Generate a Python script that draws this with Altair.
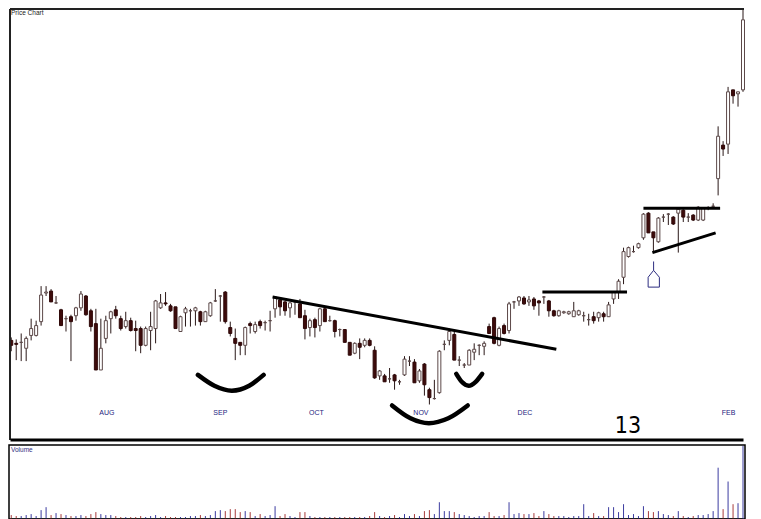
import altair as alt
import pandas as pd
import numpy as np

# ---------------- data ----------------
opens = [1.13, 1.10, 1.11, 1.05, 1.18, 1.18, 1.32, 1.61, 1.63, 1.51,
         1.44, 1.35, 1.37, 1.38, 1.46, 1.58, 1.43, 1.30, 0.83, 1.15,
         1.35, 1.44, 1.35, 1.27, 1.33, 1.25, 1.25, 1.08, 1.23, 1.25,
         1.46, 1.51, 1.48, 1.47, 1.22, 1.41, 1.43, 1.43, 1.42, 1.32,
         1.38, 1.53, 1.58, 1.62, 1.26, 1.15, 1.11, 1.08, 1.30, 1.22,
         1.32, 1.31, 1.33, 1.45, 1.54, 1.52, 1.46, 1.52, 1.50, 1.38,
         1.26, 1.34, 1.28, 1.45, 1.33, 1.33, 1.24, 1.24, 1.11, 1.00,
         1.10, 1.08, 1.13, 1.03, 0.77, 0.77, 0.74, 0.78, 0.71, 0.78,
         0.92, 0.91, 0.72, 0.89, 0.63, 0.54, 0.60, 1.09, 1.13, 1.19,
         0.93, 0.88, 0.88, 1.01, 1.08, 1.07, 1.27, 1.36, 1.08, 1.28,
         1.23, 1.52, 1.53, 1.56, 1.52, 1.55, 1.53, 1.57, 1.53, 1.43,
         1.38, 1.41, 1.40, 1.37, 1.39, 1.38, 1.34, 1.37, 1.36, 1.40,
         1.37, 1.55, 1.62, 1.77, 1.98, 2.03, 2.07, 2.17, 2.42, 2.23,
         2.13, 2.38, 2.41, 2.38, 2.42, 2.45, 2.38, 2.40, 2.35, 2.35,
         2.47, 2.49, 2.77, 3.11, 3.12, 3.67, 3.63, 3.67]
highs = [1.16, 1.14, 1.20, 1.17, 1.35, 1.33, 1.68, 1.68, 1.65, 1.58,
         1.45, 1.38, 1.39, 1.47, 1.63, 1.59, 1.45, 1.45, 1.35, 1.38,
         1.43, 1.48, 1.38, 1.42, 1.36, 1.33, 1.27, 1.27, 1.42, 1.54,
         1.60, 1.62, 1.50, 1.47, 1.38, 1.47, 1.45, 1.47, 1.43, 1.43,
         1.52, 1.65, 1.59, 1.63, 1.32, 1.25, 1.11, 1.27, 1.32, 1.32,
         1.34, 1.33, 1.43, 1.58, 1.56, 1.53, 1.52, 1.53, 1.55, 1.44,
         1.35, 1.36, 1.46, 1.46, 1.38, 1.34, 1.25, 1.24, 1.11, 1.11,
         1.15, 1.15, 1.15, 1.07, 0.83, 0.79, 0.85, 0.79, 0.73, 0.97,
         0.97, 0.94, 0.84, 0.90, 0.65, 0.73, 1.03, 1.13, 1.25, 1.22,
         0.97, 0.90, 1.04, 1.10, 1.09, 1.12, 1.30, 1.37, 1.27, 1.30,
         1.52, 1.53, 1.58, 1.58, 1.58, 1.57, 1.54, 1.58, 1.54, 1.44,
         1.44, 1.43, 1.43, 1.52, 1.44, 1.42, 1.40, 1.42, 1.42, 1.42,
         1.52, 1.63, 1.75, 2.07, 2.08, 2.09, 2.12, 2.42, 2.43, 2.23,
         2.38, 2.41, 2.42, 2.39, 2.47, 2.46, 2.42, 2.41, 2.49, 2.48,
         2.49, 2.52, 3.30, 3.15, 3.70, 3.67, 3.65, 4.49]
lows = [1.02, 0.93, 0.92, 0.92, 1.13, 1.17, 1.28, 1.58, 1.52, 1.50,
        1.28, 1.22, 0.92, 1.33, 1.43, 1.38, 1.22, 0.83, 0.83, 1.10,
        1.20, 1.35, 1.23, 1.25, 1.22, 1.02, 1.00, 1.07, 1.03, 1.10,
        1.45, 1.48, 1.42, 1.25, 1.22, 1.27, 1.27, 1.28, 1.28, 1.32,
        1.37, 1.52, 1.32, 1.30, 1.17, 0.93, 0.98, 0.98, 1.20, 1.20,
        1.25, 1.23, 1.22, 1.36, 1.38, 1.38, 1.36, 1.39, 1.36, 1.14,
        1.17, 1.16, 1.22, 1.32, 1.32, 1.16, 1.17, 1.11, 0.98, 0.99,
        0.94, 1.06, 1.07, 0.74, 0.73, 0.71, 0.70, 0.63, 0.68, 0.77,
        0.87, 0.70, 0.70, 0.57, 0.48, 0.53, 0.59, 1.03, 1.08, 0.93,
        0.87, 0.85, 0.88, 0.93, 0.98, 0.98, 1.20, 1.09, 1.07, 1.19,
        1.20, 1.45, 1.48, 1.49, 1.48, 1.44, 1.38, 1.50, 1.37, 1.37,
        1.37, 1.40, 1.39, 1.37, 1.38, 1.32, 1.28, 1.30, 1.32, 1.32,
        1.37, 1.50, 1.55, 1.70, 1.97, 2.02, 2.06, 2.15, 2.22, 2.02,
        2.12, 2.33, 2.30, 2.30, 2.02, 2.33, 2.33, 2.34, 2.34, 2.34,
        2.45, 2.47, 2.60, 3.00, 3.02, 3.53, 3.50, 3.65]
closes = [1.08, 1.09, 1.11, 1.15, 1.25, 1.28, 1.59, 1.62, 1.52, 1.51,
          1.28, 1.35, 1.32, 1.46, 1.60, 1.39, 1.27, 0.83, 1.05, 1.33,
          1.42, 1.38, 1.25, 1.33, 1.23, 1.23, 1.08, 1.25, 1.27, 1.53,
          1.51, 1.50, 1.43, 1.25, 1.37, 1.45, 1.43, 1.46, 1.32, 1.42,
          1.51, 1.53, 1.58, 1.32, 1.20, 1.10, 1.08, 1.26, 1.28, 1.29,
          1.28, 1.31, 1.33, 1.57, 1.47, 1.43, 1.51, 1.52, 1.36, 1.25,
          1.33, 1.26, 1.45, 1.32, 1.33, 1.22, 1.24, 1.11, 0.98, 1.10,
          1.06, 1.13, 1.08, 0.75, 0.82, 0.71, 0.74, 0.72, 0.71, 0.94,
          0.92, 0.70, 0.82, 0.68, 0.55, 0.54, 1.02, 1.09, 1.22, 0.93,
          0.93, 0.88, 1.03, 1.04, 1.08, 1.10, 1.20, 1.10, 1.25, 1.20,
          1.50, 1.52, 1.57, 1.50, 1.54, 1.48, 1.51, 1.57, 1.43, 1.38,
          1.43, 1.42, 1.42, 1.43, 1.43, 1.38, 1.34, 1.33, 1.41, 1.37,
          1.49, 1.62, 1.73, 2.03, 2.07, 2.03, 2.11, 2.41, 2.22, 2.17,
          2.37, 2.38, 2.41, 2.31, 2.46, 2.38, 2.38, 2.35, 2.48, 2.47,
          2.47, 2.49, 3.20, 3.07, 3.65, 3.61, 3.65, 4.38]
volumes = [400, 300, 300, 400, 500, 300, 900, 1200, 400, 600,
           500, 400, 300, 300, 400, 300, 500, 700, 500, 400,
           400, 300, 200, 200, 200, 200, 300, 200, 300, 400,
           200, 300, 200, 200, 200, 200, 300, 300, 400, 300,
           400, 800, 900, 800, 1000, 1000, 700, 800, 700, 300,
           500, 300, 400, 1300, 300, 500, 300, 200, 700, 700,
           300, 200, 200, 200, 200, 200, 200, 200, 200, 200,
           200, 200, 300, 700, 300, 200, 300, 400, 200, 500,
           300, 500, 300, 800, 900, 500, 1700, 800, 800, 700,
           500, 400, 300, 200, 300, 300, 700, 300, 300, 400,
           1700, 500, 600, 500, 500, 600, 300, 800, 500, 300,
           300, 300, 200, 300, 300, 1500, 300, 600, 300, 300,
           1200, 1200, 700, 1500, 400, 500, 300, 1300, 800, 700,
           800, 500, 400, 300, 800, 300, 200, 300, 400, 400,
           500, 800, 5200, 1000, 3800, 1500, 1600, 7400]

month_labels = ["AUG", "SEP", "OCT", "NOV", "DEC", "FEB"]
month_pos = [19.2, 42.0, 61.3, 82.3, 103.2, 144.1]

# trend lines (bar index, price)
trend_x1 = [52.5, 106.7, 127.0, 128.8]
trend_y1 = [1.57, 1.62, 2.47, 2.02]
trend_x2 = [109.5, 123.7, 142.4, 141.5]
trend_y2 = [1.04, 1.62, 2.47, 2.22]

# hand-drawn smile curves
arc_id = ["a"] * 5 + ["b"] * 5 + ["c"] * 5
arc_x = [37.5, 40.8, 44.3, 47.8, 50.7,
         76.5, 80.2, 83.9, 87.8, 91.7,
         89.4, 90.5, 91.9, 93.3, 94.6]
arc_y = [0.78, 0.67, 0.62, 0.67, 0.78,
         0.47, 0.34, 0.29, 0.34, 0.47,
         0.79, 0.71, 0.67, 0.71, 0.79]

# arrow (house) marker
house_x = [129.04, 129.04, 127.94, 127.94, 130.2, 130.2, 129.04]
house_y = [1.93, 1.84, 1.77, 1.67, 1.67, 1.77, 1.84]

# ---------------- chart ----------------
W = 736
PH = 432
VH = 74
FULL = 736

df = pd.DataFrame({"i": list(range(len(opens))), "open": opens, "high": highs,
                   "low": lows, "close": closes, "volume": volumes})
up = df["close"] >= df["open"]
df["fill"] = np.where(up, "#ffffff", "#3d0b0b")
df["edge"] = np.where(up, "#5c4848", "#2e0808")
df["vcol"] = np.where(up, "#3c3ca0", "#a83c3c")

xs = alt.Scale(domain=[-0.45, 147.4], nice=False, zero=False, padding=0)
ys = alt.Scale(domain=[0.12, 4.50], nice=False, zero=False, padding=0)

wicks = alt.Chart(df).mark_rule(color="#2a1818", strokeWidth=1).encode(
    x=alt.X("i:Q", scale=xs, axis=None),
    y=alt.Y("low:Q", scale=ys, axis=None),
    y2="high:Q")

bodies = alt.Chart(df).mark_bar(size=3, strokeWidth=1).encode(
    x=alt.X("i:Q", scale=xs, axis=None),
    y=alt.Y("open:Q", scale=ys, axis=None),
    y2="close:Q",
    fill=alt.Fill("fill:N", scale=None),
    stroke=alt.Stroke("edge:N", scale=None))

trend_df = pd.DataFrame({"x1": trend_x1, "y1": trend_y1, "x2": trend_x2, "y2": trend_y2})
trends = alt.Chart(trend_df).mark_rule(color="black", strokeWidth=3).encode(
    x=alt.X("x1:Q", scale=xs, axis=None), x2="x2:Q",
    y=alt.Y("y1:Q", scale=ys, axis=None), y2="y2:Q")

arc_df = pd.DataFrame({"arc": arc_id, "x": arc_x, "y": arc_y})
arcs = alt.Chart(arc_df).mark_line(color="black", strokeWidth=4.5,
                                   interpolate="monotone", strokeCap="round").encode(
    x=alt.X("x:Q", scale=xs, axis=None),
    y=alt.Y("y:Q", scale=ys, axis=None),
    detail="arc:N")

house_df = pd.DataFrame({"k": list(range(len(house_x))), "x": house_x, "y": house_y})
house = alt.Chart(house_df).mark_line(color="#2d2d80", strokeWidth=1).encode(
    x=alt.X("x:Q", scale=xs, axis=None),
    y=alt.Y("y:Q", scale=ys, axis=None),
    order="k:Q")

month_df = pd.DataFrame({"label": month_labels, "pos": month_pos})
months = alt.Chart(month_df).mark_text(font="Liberation Sans", fontSize=7, color="#23237e",
                                       baseline="middle", align="center").encode(
    x=alt.X("pos:Q", scale=xs, axis=None), y=alt.value(405), text="label:N")

one = pd.DataFrame({"k": [0]})
thirteen = alt.Chart(one).mark_text(font="Liberation Sans Narrow, DejaVu Sans Condensed, Liberation Sans",
                                    fontSize=23, color="black",
                                    baseline="middle", align="center", text="13").encode(
    x=alt.X(datum=123.9, scale=xs, axis=None), y=alt.value(418))

title_txt = alt.Chart(one).mark_text(font="Liberation Sans", fontSize=6.5, color="#222222",
                                     baseline="top", align="left", text="Price Chart").encode(
    x=alt.value(2), y=alt.value(2))

left_border = alt.Chart(one).mark_rule(color="#222222", strokeWidth=2).encode(
    x=alt.value(1), y=alt.value(1), y2=alt.value(PH))
top_border = alt.Chart(one).mark_rule(color="#222222", strokeWidth=2).encode(
    x=alt.value(1), x2=alt.value(FULL - 1), y=alt.value(1))
bottom_border = alt.Chart(one).mark_rule(color="black", strokeWidth=3).encode(
    x=alt.value(1.5), x2=alt.value(FULL - 1.5), y=alt.value(PH))

price = alt.layer(wicks, bodies, trends, arcs, house, months, thirteen, title_txt,
                  left_border, top_border, bottom_border).properties(width=W, height=PH)

vbars = alt.Chart(df).mark_rule(strokeWidth=1).encode(
    x=alt.X("i:Q", scale=xs, axis=None),
    y=alt.Y("volume:Q", scale=alt.Scale(domain=[0, 7500], nice=False), axis=None),
    y2=alt.datum(0),
    color=alt.Color("vcol:N", scale=None))

vol_txt = alt.Chart(one).mark_text(font="Liberation Sans", fontSize=6.5, color="#303080",
                                   baseline="top", align="left", text="Volume").encode(
    x=alt.value(2), y=alt.value(2))

vol_bottom = alt.Chart(one).mark_rule(color="black", strokeWidth=3).encode(
    x=alt.value(1.5), x2=alt.value(FULL - 1.5), y=alt.value(VH + 1))

volume = alt.layer(vbars, vol_txt, vol_bottom).properties(
    width=W, height=VH,
    view=alt.ViewBackground(stroke="black", strokeWidth=1.5))

chart = alt.vconcat(price, volume, spacing=2).properties(
    padding=0, background="white"
).configure_view(stroke=None)

chart.save("out.html", embed_options={"renderer": "svg", "actions": False})
